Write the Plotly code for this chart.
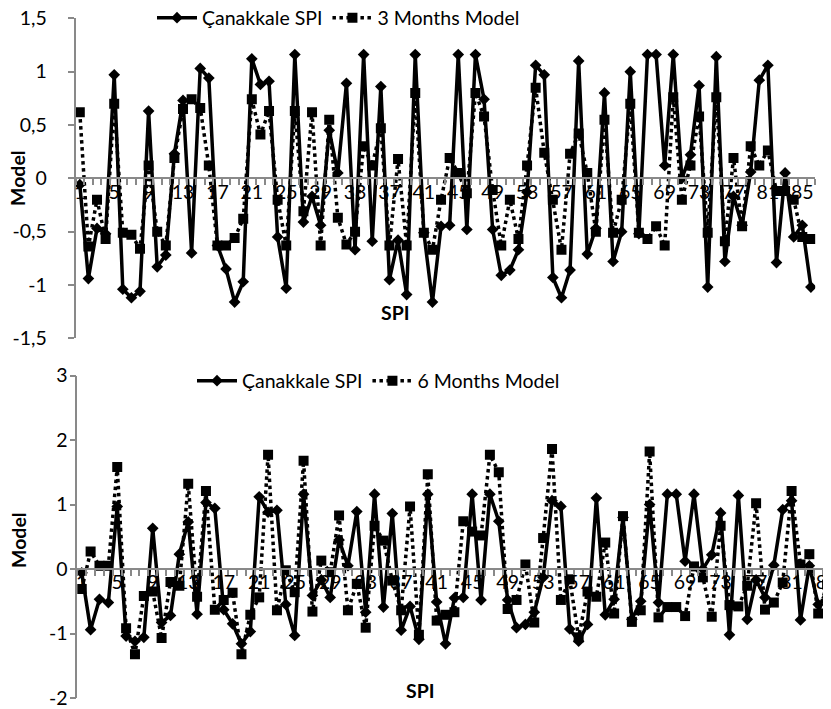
import plotly.graph_objects as go

# ---- data ----
months = list(range(1, 87))

canakkale_spi = [
    -0.06, -0.94, -0.47, -0.52, 0.97, -1.04, -1.12, -1.06, 0.63, -0.83,
    -0.72, 0.23, 0.73, -0.70, 1.03, 0.94, -0.63, -0.85, -1.16, -0.97,
    1.12, 0.88, 0.91, -0.55, -1.03, 1.16, -0.41, -0.17, -0.44, 0.45,
    0.05, 0.89, -0.67, 1.16, -0.59, 0.86, -0.95, -0.58, -1.09, 1.16,
    -0.51, -1.16, -0.45, -0.44, 1.16, -0.48, 1.16, 0.74, -0.48, -0.91,
    -0.86, -0.67, -0.13, 1.06, 0.97, -0.93, -1.12, -0.86, 1.10, -0.71,
    -0.47, 0.80, -0.78, -0.50, 1.00, -0.52, 1.16, 1.16, 0.12, 1.16,
    0.00, 0.22, 0.87, -1.02, 1.14, -0.78, -0.17, -0.44, 0.06, 0.92,
    1.06, -0.79, 0.05, -0.55, -0.44, -1.02]

model_3_months = [
    0.62, -0.64, -0.20, -0.57, 0.70, -0.51, -0.53, -0.66, 0.12, -0.50,
    -0.63, 0.19, 0.65, 0.74, 0.66, 0.12, -0.63, -0.63, -0.56, -0.38,
    0.74, 0.41, 0.63, -0.20, -0.63, 0.63, -0.31, 0.62, -0.63, 0.55,
    -0.37, -0.62, -0.50, 0.30, 0.12, 0.47, -0.63, 0.18, -0.63, 0.80,
    -0.51, -0.67, -0.20, 0.19, 0.05, -0.14, 0.80, 0.58, -0.11, -0.63,
    -0.20, -0.57, 0.12, 0.85, 0.24, -0.20, -0.67, 0.23, 0.42, 0.05,
    -0.50, 0.55, -0.51, -0.20, 0.70, -0.51, -0.57, -0.45, -0.63, 0.76,
    -0.20, 0.12, 0.58, -0.51, 0.76, -0.59, 0.19, -0.45, 0.30, 0.12,
    0.26, -0.12, -0.12, -0.20, -0.55, -0.57]

model_6_months = [
    -0.31, 0.27, 0.05, 0.05, 1.58, -0.92, -1.32, -0.42, -0.35, -1.07,
    -0.20, -0.26, 1.32, -0.43, 1.21, -0.63, -0.48, -0.37, -1.32, -0.71,
    -0.44, 1.77, -0.64, -0.02, -0.36, 1.68, -0.66, 0.13, -0.05, 0.83,
    -0.64, -0.23, -0.91, 0.67, 0.44, -0.18, -0.64, 0.97, -1.02, 1.47,
    -0.80, -0.71, -0.67, 0.74, 0.58, 0.52, 1.77, 1.50, -0.62, -0.48,
    0.07, -0.83, 0.48, 1.86, -0.48, -0.16, -1.06, -0.35, -0.43, 0.41,
    -0.69, 0.82, -0.82, -0.64, 1.82, -0.75, -0.59, -0.59, -0.73, 0.04,
    -0.13, -0.74, 0.67, -0.56, -0.58, -0.26, 1.02, -0.63, -0.52, -0.21,
    1.21, 0.07, 0.23, -0.69, -0.24, -0.64]

x_tick_vals = list(range(1, 87, 4))
x_tick_text = [str(v) for v in x_tick_vals]
top_y_vals = [-1.5, -1.0, -0.5, 0.0, 0.5, 1.0, 1.5]
top_y_text = ["-1,5", "-1", "-0,5", "0", "0,5", "1", "1,5"]
bot_y_vals = [-2, -1, 0, 1, 2, 3]
bot_y_text = ["-2", "-1", "0", "1", "2", "3"]

# ---- layout geometry (page pixels -> paper; page body has an 8px margin) ----
W, H = 831, 709
OFF = 8
FONT = "Lato, Carlito, Calibri, sans-serif"
FS = 19.5
AXC = "#898989"

def px(x):
    return (x - OFF) / W

def py(y):
    return (H - (y - OFF)) / H

fig = go.Figure()

spi_line = dict(color="black", width=3.5)
spi_marker = dict(symbol="diamond", size=9, color="black")
mod_line = dict(color="black", width=3.5, dash="dot")
mod_marker = dict(symbol="square", size=10, color="black")

fig.add_trace(go.Scatter(x=months, y=canakkale_spi, name="Çanakkale SPI",
                         mode="lines+markers", line=spi_line, marker=spi_marker,
                         xaxis="x", yaxis="y", legend="legend"))
fig.add_trace(go.Scatter(x=months, y=model_3_months, name="3 Months Model",
                         mode="lines+markers", line=mod_line, marker=mod_marker,
                         xaxis="x", yaxis="y", legend="legend"))
fig.add_trace(go.Scatter(x=months, y=canakkale_spi, name="Çanakkale SPI",
                         mode="lines+markers", line=spi_line, marker=spi_marker,
                         xaxis="x2", yaxis="y2", legend="legend2"))
fig.add_trace(go.Scatter(x=months, y=model_6_months, name="6 Months Model",
                         mode="lines+markers", line=mod_line, marker=mod_marker,
                         xaxis="x2", yaxis="y2", legend="legend2"))

tickfont = dict(family=FONT, size=FS, color="black")

def xaxis_cfg(domain, pos, rng):
    return dict(domain=domain, range=rng, anchor="free", position=pos,
                showline=True, linecolor=AXC, linewidth=2,
                tickmode="array", tickvals=x_tick_vals, ticktext=x_tick_text,
                ticks="", tickfont=tickfont, showgrid=False, zeroline=False,
                automargin=False, ticklabelstandoff=-4,
                ticklabeloverflow="allow",
                minor=dict(tick0=0.5, dtick=1, ticks="outside", ticklen=6,
                           tickcolor=AXC, tickwidth=1.5, showgrid=False))

def yaxis_cfg(domain, rng, vals, text, xanchor, standoff):
    return dict(domain=domain, range=rng, anchor=xanchor,
                showline=True, linecolor=AXC, linewidth=1.5,
                tickmode="array", tickvals=vals, ticktext=text,
                ticks="outside", ticklen=6, tickcolor=AXC, tickwidth=1.5,
                tickfont=tickfont, showgrid=False, zeroline=False,
                automargin=False, ticklabelstandoff=standoff,
                ticklabeloverflow="allow")

top_x0, top_x1 = 75.5, 815.2
top_y_top, top_y_bot = 18.3, 338.3
bot_x0 = 77.3
bot_y_top, bot_y_bot = 375.5, 698.0
bot_right_range = 0.5 + (W - bot_x0) / 8.78

legend_common = dict(orientation="h", xanchor="left", yanchor="middle",
                     xref="container", yref="container",
                     font=dict(family=FONT, size=FS, color="black"),
                     bgcolor="rgba(0,0,0,0)", itemwidth=40, tracegroupgap=0)

ann_common = dict(xref="paper", yref="paper", showarrow=False,
                  xanchor="center", yanchor="middle",
                  font=dict(family=FONT, size=FS, color="black"))

fig.update_layout(
    width=W, height=H,
    margin=dict(l=0, r=0, t=0, b=0, autoexpand=False),
    paper_bgcolor="white", plot_bgcolor="white",
    separators=", ",
    font=dict(family=FONT, size=FS, color="black"),
    xaxis=xaxis_cfg([px(top_x0), px(top_x1)], py(178.3), [0.5, 86.5]),
    yaxis=yaxis_cfg([py(top_y_bot), py(top_y_top)], [-1.5, 1.5],
                    top_y_vals, top_y_text, "x", 17),
    xaxis2=xaxis_cfg([px(bot_x0), min(1.0, px(W + OFF))], py(569.0),
                     [0.5, bot_right_range]),
    yaxis2=yaxis_cfg([py(bot_y_bot), py(bot_y_top)], [-2, 3],
                     bot_y_vals, bot_y_text, "x2", -2),
    legend=dict(x=px(152), y=py(18), **legend_common),
    legend2=dict(x=px(192), y=py(381), **legend_common),
    annotations=[
        dict(text="<b>Model</b>", x=px(18), y=py(178), textangle=-90, **ann_common),
        dict(text="<b>SPI</b>", x=px(395), y=py(312), **ann_common),
        dict(text="<b>Model</b>", x=px(18), y=py(540), textangle=-90, **ann_common),
        dict(text="<b>SPI</b>", x=px(420), y=py(690), **ann_common),
    ],
)

fig.write_html("out.html")
